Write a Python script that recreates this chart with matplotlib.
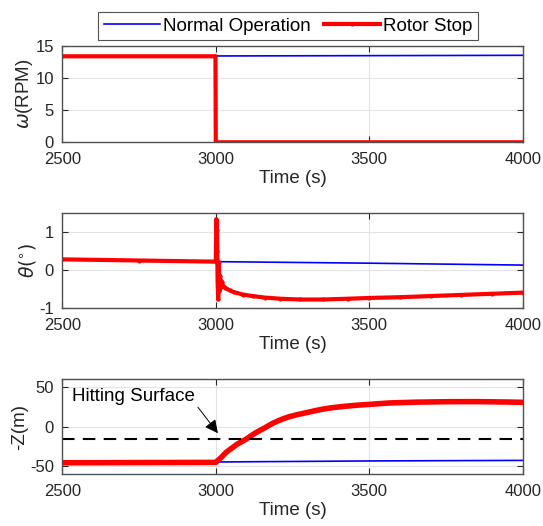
import matplotlib.pyplot as plt

plt.rcParams['font.family'] = ['Liberation Sans', 'DejaVu Sans']
plt.rcParams['mathtext.fontset'] = 'dejavusans'
plt.rcParams['axes.unicode_minus'] = False

# omega (RPM)
t_omega_normal = [2500, 3000, 3500, 4000]
omega_normal = [13.35, 13.4, 13.45, 13.5]
t_omega_stop = [2500, 2999, 3000, 4000]
omega_stop = [13.35, 13.35, 0.0, 0.0]

# theta (deg)
t_theta_normal = [2500, 3000, 3500, 4000]
theta_normal = [0.28, 0.22, 0.18, 0.13]
t_theta_stop = [2500, 2750, 3000, 3002, 3004, 3005, 3006, 3008, 3010, 3012, 3014,
                3017, 3020, 3024, 3030, 3045, 3060, 3088, 3120, 3160, 3210, 3273,
                3350, 3430, 3500, 3600, 3700, 3800, 3900, 4000]
theta_stop = [0.28, 0.25, 0.22, 1.33, 1.05, 0.5, -0.3, -0.77, 0.2, -0.55, -0.15,
              -0.45, -0.3, -0.42, -0.46, -0.53, -0.58, -0.64, -0.68, -0.72, -0.75, -0.77,
              -0.77, -0.75, -0.73, -0.71, -0.68, -0.65, -0.62, -0.59]

# -Z (m)
t_z_normal = [2500, 3000, 3500, 4000]
z_normal = [-45.5, -44.5, -43.2, -42.5]
t_z_stop = [2500, 3000, 3010, 3020, 3032, 3045, 3058, 3070, 3085, 3100, 3115, 3130,
            3145, 3160, 3173, 3186, 3200, 3220, 3240, 3270, 3300, 3325, 3348, 3380,
            3420, 3460, 3500, 3565, 3650, 3750, 3850, 3950, 4000]
z_stop = [-45.5, -45, -41.5, -38, -33, -29, -25.5, -22, -18.8, -15.5, -11.5, -7.8,
          -4.5, -1.5, 1.5, 4.3, 6.8, 10, 12.6, 15.5, 18, 20.2, 22, 23.9,
          25.6, 27, 28, 29.8, 30.8, 31.4, 31.5, 31, 30.6]
surface_level = -15
arrow_tail = (2942, 24.4)
arrow_head = (3007, -8.3)

fig = plt.figure(figsize=(5.43, 5.26), dpi=100)
left, width = 0.1147, 0.848
bottoms = [0.7295, 0.4139, 0.0983]
heights = [0.1837, 0.1817, 0.1812]
axes = [fig.add_axes([left, b, width, h]) for b, h in zip(bottoms, heights)]

blue = '#0000ff'
red = '#ff0000'
txt = '#262626'

ax1, ax2, ax3 = axes
ax1.plot(t_omega_normal, omega_normal, color=blue, lw=1.2, label='Normal Operation')
ax1.plot(t_omega_stop, omega_stop, color=red, lw=3, marker='.', markersize=4,
         label='Rotor Stop')
ax1.set_ylim(0, 15)
ax1.set_yticks([0, 5, 10, 15])
ax1.set_ylabel(r'$\omega$(RPM)', fontsize=13.5, color=txt, labelpad=0)

ax2.plot(t_theta_normal, theta_normal, color=blue, lw=1.2)
ax2.plot(t_theta_stop, theta_stop, color=red, lw=3, marker='.', markersize=4,
         solid_joinstyle='round')
ax2.set_ylim(-1, 1.5)
ax2.set_yticks([-1, 0, 1])
ax2.set_ylabel(r'$\theta(^{\circ})$', fontsize=13.5, color=txt, labelpad=1)

ax3.plot(t_z_normal, z_normal, color=blue, lw=1.2)
ax3.plot(t_z_stop, z_stop, color=red, lw=4, solid_joinstyle='round',
         solid_capstyle='round')
ax3.axhline(surface_level, color='black', lw=1.5, ls=(0, (6, 4)))
ax3.set_ylim(-60, 60)
ax3.set_yticks([-50, 0, 50])
ax3.set_ylabel('-Z(m)', fontsize=13.5, color=txt, labelpad=1)
ax3.text(2532, 38, 'Hitting Surface', fontsize=13.5, color='black', va='center')
ax3.annotate('', xy=arrow_head, xytext=arrow_tail,
             arrowprops=dict(arrowstyle='-|>', color='black', lw=0.7,
                             mutation_scale=20, shrinkA=0, shrinkB=0))

for ax in axes:
    ax.set_xlim(2500, 4000)
    ax.set_xticks([2500, 3000, 3500, 4000])
    ax.set_xlabel('Time (s)', fontsize=13.5, color=txt, labelpad=2)
    ax.grid(True, color='#e3e3e3', lw=0.8)
    ax.set_axisbelow(True)
    ax.tick_params(direction='in', top=True, right=True, labelsize=12,
                   colors=txt, length=4)
    ax.tick_params(axis='x', pad=7)
    ax.tick_params(axis='y', pad=6)
    for s in ax.spines.values():
        s.set_color('#505050')
        s.set_linewidth(1.0)

leg = fig.legend(loc='center', bbox_to_anchor=(0.530, 0.950), ncol=2,
                 fontsize=13.5, frameon=True, fancybox=False, edgecolor='#262626',
                 handlelength=3.0, columnspacing=0.7, borderpad=0.3,
                 handletextpad=0.15, numpoints=1)
leg.get_frame().set_linewidth(0.8)

fig.savefig('out.png', dpi=100)
